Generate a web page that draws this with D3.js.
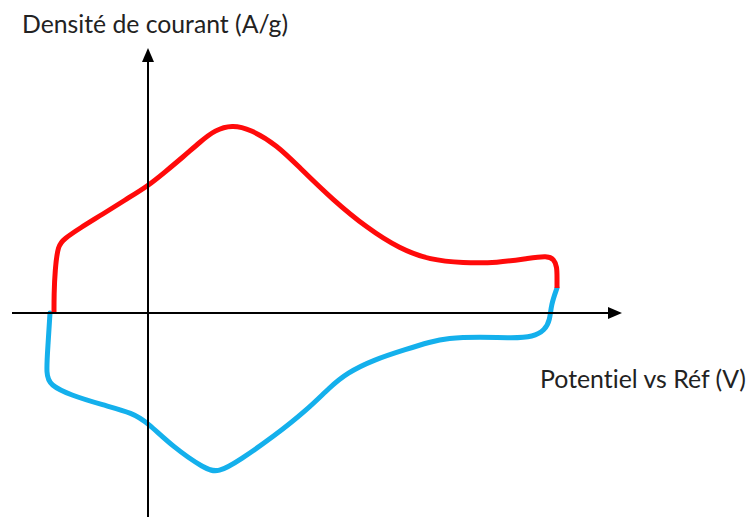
<!DOCTYPE html>
<html>
<head>
<meta charset="utf-8">
<script src="https://cdn.jsdelivr.net/npm/d3@7"></script>
<style>
  html, body { margin: 0; padding: 0; background: #fff; }
  svg { display: block; }
  text { font-variant-ligatures: none; font-feature-settings: "liga" 0, "clig" 0; }
</style>
</head>
<body>
<svg id="chart" width="748" height="517"></svg>
<script>
// ---- Data (schematic cyclic voltammogram, arbitrary units) ----
const axisLabels = ["Potentiel vs Réf (V)", "Densité de courant (A/g)"];

// Oxidation (anodic) sweep, drawn in red: left to right
const oxPotential = [-0.94, -0.94, -0.93, -0.90, -0.84, -0.68, -0.45, -0.23, 0.00, 0.17, 0.35, 0.52, 0.67, 0.84, 1.02, 1.29, 1.52, 1.85, 2.19, 2.52, 2.82, 3.15, 3.49, 3.82, 3.99, 4.06, 4.09, 4.09, 4.09];
const oxCurrent   = [ 0.00,  0.18,  0.43,  0.68,  0.74,  0.85,  0.99,  1.13, 1.27, 1.41, 1.56, 1.71, 1.83, 1.88, 1.84, 1.68, 1.45, 1.13, 0.85, 0.64, 0.53, 0.50, 0.50, 0.55, 0.57, 0.54, 0.46, 0.35, 0.25];

// Reduction (cathodic) sweep, drawn in blue: right to left
const redPotential = [4.09, 4.03, 4.02, 3.97, 3.85, 3.65, 3.32, 2.99, 2.82, 2.59, 2.25, 1.99, 1.82, 1.59, 1.25, 0.92, 0.70, 0.57, 0.25, 0.00, -0.15, -0.45, -0.78, -0.98, -1.02, -1.00, -0.98];
const redCurrent   = [0.25, 0.08, -0.07, -0.17, -0.24, -0.25, -0.24, -0.25, -0.29, -0.36, -0.47, -0.60, -0.74, -0.97, -1.24, -1.47, -1.60, -1.56, -1.34, -1.10, -1.00, -0.92, -0.82, -0.72, -0.62, -0.32, 0.00];

// Axis extents (data units)
const xExtent = [-1.36, 4.74];
const yExtent = [-2.04, 2.65];

// ---- Scales ----
const x = d3.scaleLinear().domain(xExtent).range([12, 622]);
const y = d3.scaleLinear().domain(yExtent).range([517, 48]);

const svg = d3.select("#chart");

const line = d3.line()
  .x(d => x(d[0]))
  .y(d => y(d[1]))
  .curve(d3.curveBasis);

const oxData = oxPotential.map((v, i) => [v, oxCurrent[i]]);
const redData = redPotential.map((v, i) => [v, redCurrent[i]]);

// ---- Curves ----
svg.append("path")
  .datum(redData)
  .attr("d", line)
  .attr("fill", "none")
  .attr("stroke", "#14b0ec")
  .attr("stroke-width", 5)
  .attr("stroke-linecap", "round")
  .attr("stroke-linejoin", "round");

svg.append("path")
  .datum(oxData)
  .attr("d", line)
  .attr("fill", "none")
  .attr("stroke", "#ff0a0a")
  .attr("stroke-width", 5)
  .attr("stroke-linecap", "butt")
  .attr("stroke-linejoin", "round");

// ---- Axes (arrows) ----
const axisG = svg.append("g");
const x0 = x(0), y0 = y(0);
const xTip = x(xExtent[1]), yTip = y(yExtent[1]);

axisG.append("line")
  .attr("x1", x(xExtent[0])).attr("y1", y0)
  .attr("x2", xTip - 10).attr("y2", y0)
  .attr("stroke", "#000").attr("stroke-width", 2);
axisG.append("path")
  .attr("d", `M${xTip},${y0} L${xTip - 14},${y0 - 6} L${xTip - 14},${y0 + 6} Z`)
  .attr("fill", "#000");

axisG.append("line")
  .attr("x1", x0).attr("y1", y(yExtent[0]))
  .attr("x2", x0).attr("y2", yTip + 10)
  .attr("stroke", "#000").attr("stroke-width", 2);
axisG.append("path")
  .attr("d", `M${x0},${yTip} L${x0 - 6},${yTip + 14} L${x0 + 6},${yTip + 14} Z`)
  .attr("fill", "#000");

// ---- Labels ----
function fitText(sel, targetWidth) {
  let fs = 24;
  sel.attr("font-size", fs);
  const w = sel.node().getComputedTextLength();
  if (w > 0) sel.attr("font-size", (fs * targetWidth / w).toFixed(2));
}

const yLabel = svg.append("text")
  .attr("x", 22).attr("y", 33)
  .attr("font-family", "Lato, 'Open Sans', sans-serif")
  .attr("fill", "#222")
  .text(axisLabels[1]);
fitText(yLabel, 266);

const xLabel = svg.append("text")
  .attr("x", 540).attr("y", 388)
  .attr("font-family", "Lato, 'Open Sans', sans-serif")
  .attr("fill", "#222")
  .text(axisLabels[0]);
fitText(xLabel, 206);
</script>
</body>
</html>
